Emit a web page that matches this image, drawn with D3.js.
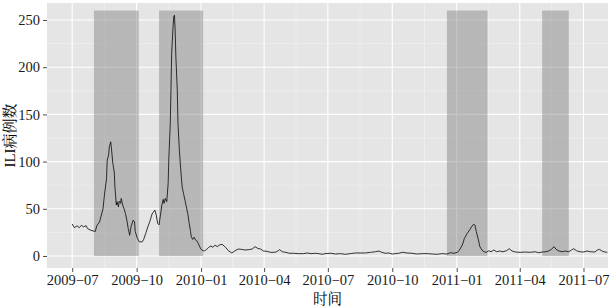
<!DOCTYPE html>
<html><head><meta charset="utf-8">
<script src="https://cdn.jsdelivr.net/npm/d3@7"></script>
<style>html,body{margin:0;padding:0;background:#fff;}svg{display:block;}</style>
</head><body>
<svg id="chart" width="616" height="308"></svg>
<script>
const dates = ["2009-07-01","2009-07-04","2009-07-08","2009-07-11","2009-07-14","2009-07-17","2009-07-21","2009-07-23","2009-07-27","2009-07-31",
"2009-08-03","2009-08-05","2009-08-09","2009-08-11","2009-08-14","2009-08-16","2009-08-19","2009-08-20","2009-08-22","2009-08-23","2009-08-25","2009-08-26","2009-08-28","2009-08-30","2009-08-31",
"2009-09-02","2009-09-03","2009-09-05","2009-09-06","2009-09-08","2009-09-09","2009-09-11","2009-09-13","2009-09-15","2009-09-17","2009-09-19","2009-09-21","2009-09-23","2009-09-26","2009-09-28","2009-09-29",
"2009-10-02","2009-10-05","2009-10-09","2009-10-11","2009-10-14","2009-10-17","2009-10-20","2009-10-23","2009-10-27","2009-10-29","2009-10-31",
"2009-11-02","2009-11-04","2009-11-06","2009-11-08","2009-11-09","2009-11-11","2009-11-13","2009-11-15","2009-11-16","2009-11-18","2009-11-19","2009-11-20","2009-11-22","2009-11-23","2009-11-24","2009-11-25","2009-11-26","2009-11-28","2009-11-29",
"2009-12-01","2009-12-03","2009-12-05","2009-12-07","2009-12-09","2009-12-11","2009-12-13","2009-12-15","2009-12-17","2009-12-18","2009-12-20","2009-12-22","2009-12-24","2009-12-26","2009-12-28","2009-12-30",
"2010-01-01","2010-01-04","2010-01-06","2010-01-09","2010-01-12","2010-01-15","2010-01-18","2010-01-21","2010-01-24","2010-01-27","2010-01-31",
"2010-02-05","2010-02-09","2010-02-14","2010-02-18","2010-02-23","2010-02-28","2010-03-05","2010-03-10","2010-03-15","2010-03-19","2010-03-23","2010-03-27","2010-03-31",
"2010-04-05","2010-04-10","2010-04-15","2010-04-19","2010-04-23","2010-04-27","2010-05-02","2010-05-07","2010-05-13","2010-05-20","2010-05-27",
"2010-06-02","2010-06-07","2010-06-13","2010-06-18","2010-06-23","2010-06-27","2010-07-05","2010-07-12","2010-07-19","2010-07-26",
"2010-08-02","2010-08-09","2010-08-16","2010-08-24","2010-08-31","2010-09-07","2010-09-12","2010-09-16","2010-09-21","2010-09-26",
"2010-10-01","2010-10-05","2010-10-10","2010-10-16","2010-10-22","2010-10-29","2010-11-05","2010-11-13","2010-11-20","2010-11-27",
"2010-12-04","2010-12-11","2010-12-18","2010-12-23","2010-12-28",
"2011-01-02","2011-01-05","2011-01-09","2011-01-12","2011-01-16","2011-01-20","2011-01-23","2011-01-25","2011-01-27","2011-01-29",
"2011-02-01","2011-02-03","2011-02-06","2011-02-09","2011-02-12","2011-02-16","2011-02-19","2011-02-23","2011-02-27",
"2011-03-03","2011-03-08","2011-03-13","2011-03-17","2011-03-21","2011-03-26","2011-04-02","2011-04-09","2011-04-16","2011-04-23","2011-04-28",
"2011-05-03","2011-05-08","2011-05-12","2011-05-16","2011-05-20","2011-05-23","2011-05-27","2011-06-01","2011-06-05","2011-06-10","2011-06-14","2011-06-17","2011-06-21","2011-06-26",
"2011-07-01","2011-07-06","2011-07-11","2011-07-17","2011-07-21","2011-07-24","2011-07-28","2011-08-01","2011-08-04"];
const values = [34,30,32,30,32.5,31,32,29,27.5,26.5,
26,32,36,41.6,50,64.6,82,101.7,107,115.8,121,114,98,89,73,
54,57.5,52,58,55.8,61,54,50,45,38,29,22,31,38,36,26,
18.7,15,15,17.6,24,31,37,44.5,48.7,43.4,34.6,
33,43.4,54,60,55.8,61,57.5,77,105,140.5,176,214.7,243,253.5,255,239,211,176,140.5,
112,91,73,66,59,52,45,34.6,25.8,20.4,17.6,19.8,17,16,13.4,9.9,
7,5.6,5.6,7,9.2,10.6,9.2,11.6,9.9,11.6,12.4,
9.2,5.6,3.2,5.3,7.4,7,6.4,6.7,7.4,9.9,8,7.4,5.3,
5,3.9,3.9,4.5,6.7,4.5,3.9,2.9,2.9,2.5,2.5,
3.2,2.5,2.9,2.5,1.8,2.5,2.9,2.1,2.5,1.8,
2.5,3.2,3.2,3.2,3.9,4.5,5.3,3.9,2.9,3.2,
2.1,2.5,2.9,3.9,3.2,2.9,2.1,2.5,2.5,2.1,
1.8,2.5,2.1,3.5,2.9,
3.9,6.4,11.6,18.7,24,28.2,31.8,33.6,32.8,25.8,
17,9.9,6.4,4.5,3.9,5.6,4.5,6.4,4.5,
5.3,4.5,5.6,7.7,5.3,4.2,3.9,4.2,3.9,4.5,3.5,
4.2,4.5,5.3,7,9.9,7,5.3,4.5,5.3,4.5,6.4,7.7,5.6,4.5,
4.2,5.3,4.5,4.2,6.4,7,5,4.2,3.9];

const bandStart = ["2009-08-01","2009-11-02","2010-12-18","2011-05-03"];
const bandEnd   = ["2009-10-04","2010-01-04","2011-02-14","2011-06-10"];
const bandTop = 260;

const xTickLabels = ["2009-07","2009-10","2010-01","2010-04","2010-07","2010-10","2011-01","2011-04","2011-07"];
const yTicks = [0,50,100,150,200,250];
const xTitle = "时间";
const yTitle = "ILI病例数";

const parse = d3.utcParse("%Y-%m-%d");
const parseM = d3.utcParse("%Y-%m");
const data = dates.map((d,i)=>({date:parse(d), value:values[i]}));

const L=47, R=608, T=3, B=268;
const x = d3.scaleUtc().domain([parse("2009-05-26"), parse("2011-08-05")]).range([L,R]);
const y = d3.scaleLinear().domain([-12.7, 268]).range([B,T]);

const svg = d3.select("#chart");
const font = "'Liberation Serif','Times New Roman','Noto Serif CJK SC','Noto Sans CJK SC',serif";

svg.append("rect").attr("x",L).attr("y",T).attr("width",R-L).attr("height",B-T).attr("fill","#e5e5e5");

const xMajor = xTickLabels.map(parseM);
const xMinor = d3.pairs(xMajor).map(([a,b])=>new Date((+a + +b)/2));
const yMinor = d3.pairs(yTicks).map(([a,b])=>(a+b)/2);

const g = svg.append("g");
g.selectAll(".xmin").data(xMinor).join("line").attr("x1",d=>x(d)).attr("x2",d=>x(d)).attr("y1",T).attr("y2",B).attr("stroke","#f2f2f2").attr("stroke-width",0.6);
g.selectAll(".ymin").data(yMinor).join("line").attr("y1",d=>y(d)).attr("y2",d=>y(d)).attr("x1",L).attr("x2",R).attr("stroke","#f2f2f2").attr("stroke-width",0.6);
g.selectAll(".xmaj").data(xMajor).join("line").attr("x1",d=>x(d)).attr("x2",d=>x(d)).attr("y1",T).attr("y2",B).attr("stroke","#ffffff").attr("stroke-width",1.1);
g.selectAll(".ymaj").data(yTicks).join("line").attr("y1",d=>y(d)).attr("y2",d=>y(d)).attr("x1",L).attr("x2",R).attr("stroke","#ffffff").attr("stroke-width",1.1);

svg.append("g").selectAll("rect").data(bandStart.map((s,i)=>({s:parse(s), e:parse(bandEnd[i])})))
  .join("rect")
  .attr("x",d=>x(d.s)).attr("width",d=>x(d.e)-x(d.s))
  .attr("y",y(bandTop)).attr("height",y(0)-y(bandTop))
  .attr("fill","#7f7f7f").attr("fill-opacity",0.45);

svg.append("clipPath").attr("id","clip").append("rect").attr("x",L).attr("y",T).attr("width",R-L).attr("height",B-T);
svg.append("path").datum(data).attr("clip-path","url(#clip)")
  .attr("d", d3.line().x(d=>x(d.date)).y(d=>y(d.value)))
  .attr("fill","none").attr("stroke","#111").attr("stroke-width",0.85).attr("stroke-linejoin","round");

const xAxis = d3.axisBottom(x).tickValues(xMajor).tickSize(4).tickPadding(3)
  .tickFormat((d,i)=>xTickLabels[i].replace("-","\u2212"));
const xa = svg.append("g").attr("transform",`translate(0,${B})`).call(xAxis);
xa.select(".domain").remove();
xa.selectAll(".tick line").attr("stroke","#4d4d4d");
xa.selectAll("text").attr("font-family",font).attr("font-size",14.5).attr("fill","#1a1a1a");

const yAxis = d3.axisLeft(y).tickValues(yTicks).tickSize(4).tickPadding(3);
const ya = svg.append("g").attr("transform",`translate(${L},0)`).call(yAxis);
ya.select(".domain").remove();
ya.selectAll(".tick line").attr("stroke","#4d4d4d");
ya.selectAll("text").attr("font-family",font).attr("font-size",14.5).attr("fill","#1a1a1a");

svg.append("text").attr("x",(L+R)/2).attr("y",304).attr("text-anchor","middle")
  .attr("font-family",font).attr("font-size",14.5).attr("fill","#000").text(xTitle);
svg.append("text").attr("transform",`translate(15,${(T+B)/2}) rotate(-90)`).attr("text-anchor","middle")
  .attr("font-family",font).attr("font-size",15).attr("fill","#000").text(yTitle);
</script>
</body></html>
